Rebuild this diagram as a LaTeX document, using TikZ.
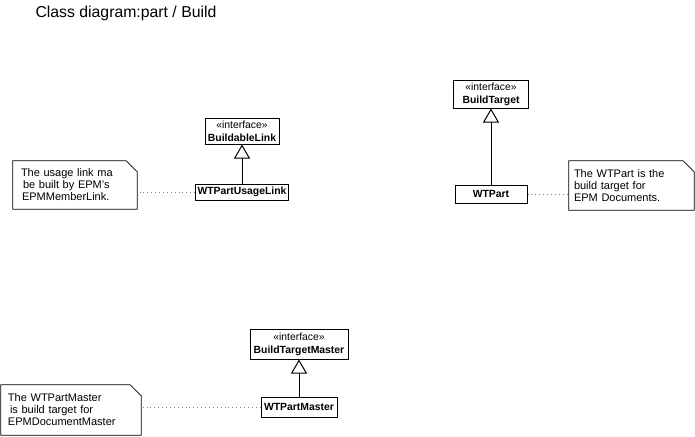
\documentclass[tikz,border=0pt]{standalone}
\usepackage{fontspec}
\setmainfont{Liberation Sans}
\usetikzlibrary{arrows.meta}
\begin{document}
\begin{tikzpicture}[x=1pt,y=-1pt,
  cls/.style={draw, line width=1pt, inner sep=0pt, align=center,
    font=\fontsize{10.4}{13}\selectfont},
  note/.style={inner ysep=0pt, align=left, font=\fontsize{11}{12}\selectfont},
  gen/.style={line width=1pt, -{Triangle[open, length=14pt, width=16pt, fill=white]}},
  attach/.style={draw=gray, line width=0.9pt, dash pattern=on 0.9pt off 3pt},
  outline/.style={line width=0.8pt}
]
\useasboundingbox (0,0) rectangle (695,436);
\node[anchor=base west, font=\fontsize{15.8}{18}\selectfont] (title) at (32,18) {Class diagram:part / Build};

% classes
\node[cls, minimum width=74pt, minimum height=26pt] (bl) at (242,131) {«interface»\\\textbf{BuildableLink}};
\node[cls, minimum width=93pt, minimum height=16pt] (ul) at (242,192) {\textbf{WTPartUsageLink}};
\node[cls, minimum width=75pt, minimum height=28pt] (bt) at (491,94) {«interface»\\\textbf{BuildTarget}};
\node[cls, minimum width=72pt, minimum height=18pt] (wp) at (491,194) {\textbf{WTPart}};
\node[cls, minimum width=98pt, minimum height=30pt] (btm) at (299,344) {«interface»\\\textbf{BuildTargetMaster}};
\node[cls, minimum width=76pt, minimum height=20pt] (wpm) at (299,407) {\textbf{WTPartMaster}};

% notes
\node[note, inner xsep=8pt, text width=108pt, minimum width=124pt, minimum height=48pt] (n1) at (75,185)
  {The usage link ma\\\hspace*{2pt}be built by EPM's\\\hspace*{1pt}EPMMemberLink.};
\node[note, inner xsep=5pt, text width=115pt, minimum width=125pt, minimum height=49pt] (n2) at (631.5,185.5)
  {The WTPart is the\\build target for\\EPM Documents.};
\node[note, inner xsep=7pt, text width=126pt, minimum width=140pt, minimum height=50pt] (n3) at (71,410)
  {The WTPartMaster\\\hspace*{2pt}is build target for\\EPMDocumentMaster};
\foreach \n in {n1,n2,n3}
  \draw[outline] (\n.north west) -- ([xshift=-11pt]\n.north east) -- ([yshift=-11pt]\n.north east)
    -- (\n.south east) -- (\n.south west) -- cycle;

% generalizations
\draw[gen] (ul.north -| bl.south) -- (bl.south);
\draw[gen] (wp.north -| bt.south) -- (bt.south);
\draw[gen] (wpm.north -| btm.south) -- (btm.south);

% note attachments
\draw[attach] (ul.west) -- (ul.west -| n1.east);
\draw[attach] (wp.east) -- (wp.east -| n2.west);
\draw[attach] (wpm.west) -- (wpm.west -| n3.east);
\end{tikzpicture}
\end{document}
